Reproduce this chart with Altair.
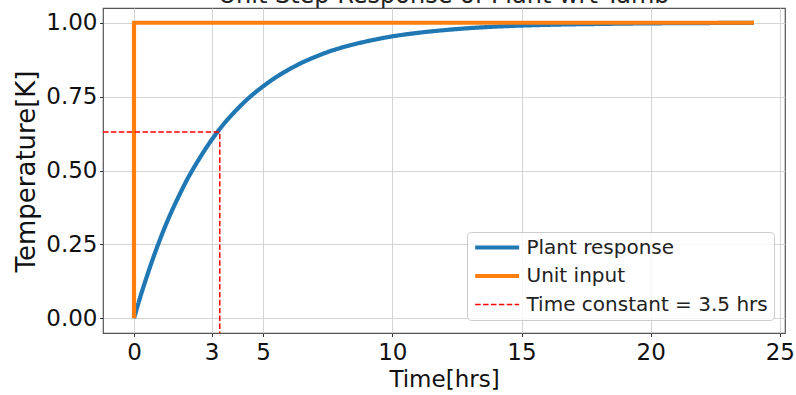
import altair as alt
import pandas as pd

# ---- data ----
series_names = ["Plant response", "Unit input", "Time constant = 3.5 hrs"]

t_resp = [0, 0.25, 0.5, 0.75, 1, 1.25, 1.5, 1.75, 2, 2.5, 3, 3.5, 4, 4.5, 5, 5.5, 6, 6.5,
          7, 7.5, 8, 9, 10, 11, 12, 13, 14, 16, 18, 20, 22, 24]
y_resp = [0, 0.074, 0.142, 0.206, 0.265, 0.32, 0.37, 0.416, 0.46, 0.536, 0.603, 0.66, 0.708,
          0.75, 0.785, 0.816, 0.842, 0.865, 0.884, 0.901, 0.915, 0.937, 0.954, 0.966, 0.975,
          0.982, 0.987, 0.993, 0.996, 0.998, 0.999, 1.0]

t_input = [0, 0, 24]
y_input = [0, 1, 1]

t_tc = [-1.2, 3.32, 3.32]
y_tc = [0.63, 0.63, -0.05]

x_ticks = [0, 3, 5, 10, 15, 20, 25]
y_ticks = [0, 0.25, 0.5, 0.75, 1.0]

rows = []
for name, ts, ys in zip(series_names, [t_resp, t_input, t_tc], [y_resp, y_input, y_tc]):
    for i, (t, y) in enumerate(zip(ts, ys)):
        rows.append({"t": t, "y": y, "series": name, "order": i})
df = pd.DataFrame(rows)

FONT = "DejaVu Sans"

legend = alt.Legend(
    title=None,
    orient="none",
    legendX=364,
    legendY=224,
    symbolType="M-1,0H5",
    symbolSize=215,
    labelFontSize=20,
    labelFont=FONT,
    labelColor="#222222",
    labelOffset=34,
    labelLimit=400,
    padding=5.5,
    rowPadding=8.5,
    fillColor="rgba(255,255,255,0.8)",
    strokeColor="#cccccc",
    cornerRadius=4,
)

color_scale = alt.Scale(domain=series_names, range=["#1f77b4", "#ff7f0e", "#ff0000"])
dash_scale = alt.Scale(domain=series_names, range=[[1, 0], [1, 0], [5.5, 2.4]])
width_scale = alt.Scale(type="ordinal", domain=series_names, range=[4.2, 4.2, 1.5])

x_enc = alt.X(
    "t:Q",
    scale=alt.Scale(domain=[-1.2, 25.2], nice=False, zero=False),
    axis=alt.Axis(values=x_ticks, title="Time[hrs]", format="d",
                  labelBaseline="alphabetic", labelPadding=22.5,
                  titleBaseline="alphabetic", titleY=53, titleX=341),
)
y_enc = alt.Y(
    "y:Q",
    scale=alt.Scale(domain=[-0.05, 1.05], nice=False, zero=False),
    axis=alt.Axis(values=y_ticks, title="Temperature[K]", format=".2f",
                  labelPadding=2.5, titleBaseline="alphabetic",
                  titleX=-69, titleY=163, titleAngle=-90, titleFontSize=26),
)


def layer(name):
    return (
        alt.Chart(df)
        .transform_filter(alt.datum.series == name)
        .mark_line(clip=True, strokeCap="butt", interpolate="monotone")
        .encode(
            x=x_enc,
            y=y_enc,
            order="order:Q",
            color=alt.Color("series:N", scale=color_scale, legend=legend),
            strokeDash=alt.StrokeDash("series:N", scale=dash_scale, legend=legend),
            strokeWidth=alt.StrokeWidth("series:N", scale=width_scale, legend=legend),
        )
    )


chart = (
    alt.layer(*[layer(n) for n in series_names])
    .properties(
        width=682,
        height=325,
        background="white",
        autosize=alt.AutoSizeParams(type="none"),
        padding={"left": 103, "top": 8, "right": 11, "bottom": 62},
        title=alt.TitleParams(
            "Unit Step Response of Plant wrt Tamb",
            fontSize=24, font=FONT, fontWeight="normal", anchor="middle",
            baseline="alphabetic", offset=0, dy=19, frame="group", color="#222222",
        ),
    )
    .configure_view(stroke="#555555", strokeWidth=1.2)
    .configure_axis(
        domain=False,
        grid=True,
        gridColor="#d4d4d4",
        gridWidth=1,
        tickColor="#333333",
        tickSize=3.5,
        labelFont=FONT,
        labelFontSize=23,
        labelColor="#111111",
        titleFont=FONT,
        titleFontSize=23,
        titleFontWeight="normal",
        titleColor="#111111",
    )
)

chart.save("out.html", embed_options={"renderer": "svg", "actions": False})
